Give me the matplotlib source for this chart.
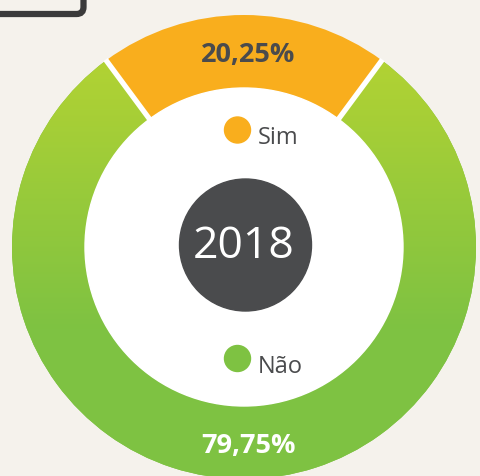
import numpy as np
import matplotlib
matplotlib.use("Agg")
import matplotlib.pyplot as plt
from matplotlib.patches import Circle, FancyBboxPatch
from matplotlib.colors import to_rgb

# ---- data ----
categories = ["Sim", "Não"]
values = [20.25, 79.75]
labels = ["20,25%", "79,75%"]
year = "2018"

# ---- style ----
W, H = 480, 477
BG = "#f5f2ec"
ORANGE = "#f9ae1d"
GREEN_TOP = "#bad531"
GREEN_BOT = "#7ec242"
DARK = "#4a4b4d"

def Y(y):
    return H - y

fig = plt.figure(figsize=(W / 100, H / 100), dpi=100)
fig.patch.set_facecolor(BG)
ax = fig.add_axes([0, 0, 1, 1])
ax.set_facecolor(BG)

cx, cy = 244, Y(248)
R, r_in = 232, 159
start = 90 - values[0] / sum(values) * 360 / 2

wedges, _ = ax.pie(values, colors=[ORANGE, GREEN_BOT], startangle=start,
                   center=(cx, cy), radius=R, counterclock=True,
                   wedgeprops=dict(width=R - r_in, linewidth=0))

# vertical gradient on the green wedge
ys = np.arange(H)
t = np.clip((ys - 17) / (330 - 17), 0, 1)[:, None]
top, bot = np.array(to_rgb(GREEN_TOP)), np.array(to_rgb(GREEN_BOT))
grad = (top * (1 - t) + bot * t)[:, None, :]
im = ax.imshow(grad, extent=(0, W, 0, H), origin="upper", aspect="auto", zorder=1.5)
im.set_clip_path(wedges[1])

# white gaps between segments
bounds = np.cumsum([0] + values) / sum(values) * 360 + start
for a in bounds[:-1]:
    ar = np.deg2rad(a)
    ax.plot([cx + (r_in - 2) * np.cos(ar), cx + (R + 1) * np.cos(ar)],
            [cy + (r_in - 2) * np.sin(ar), cy + (R + 1) * np.sin(ar)],
            color="white", lw=3.8, solid_capstyle="butt", zorder=3)

# inner white disc and dark centre
ax.add_patch(Circle((cx, cy), r_in, color="white", zorder=4))
ax.add_patch(Circle((245.5, Y(246)), 66, color=DARK, zorder=5))
ax.text(244, Y(247), year, color="white", fontsize=32, family="Open Sans",
        fontweight="normal", ha="center", va="center", zorder=6)

# legend inside
leg_y = [131, 359.5]
leg_col = [ORANGE, GREEN_BOT]
for name, yy, col in zip(categories, leg_y, leg_col):
    ax.add_patch(Circle((237.5, Y(yy)), 13, color=col, zorder=6))
    ax.text(258, Y(yy + 13.5), name, color=DARK, fontsize=17, family="Open Sans",
            ha="left", va="baseline", zorder=6)

# percentage labels
ax.text(248, Y(62), labels[0], color=DARK, fontsize=19.5, family="Open Sans",
        fontweight="bold", ha="center", va="baseline", zorder=6)
ax.text(248, Y(453), labels[1], color="white", fontsize=19.5, family="Open Sans",
        fontweight="bold", ha="center", va="baseline", zorder=6)

# decorative box corner top-left
ax.add_patch(FancyBboxPatch((-60, Y(15)), 143.5, 80,
                            boxstyle="round,pad=0,rounding_size=7",
                            fill=False, edgecolor="#3b3b3b", lw=4.5, zorder=6))

ax.set_xlim(0, W)
ax.set_ylim(0, H)
ax.set_aspect("auto")
ax.axis("off")
fig.savefig("out.png", dpi=100, facecolor=BG)
